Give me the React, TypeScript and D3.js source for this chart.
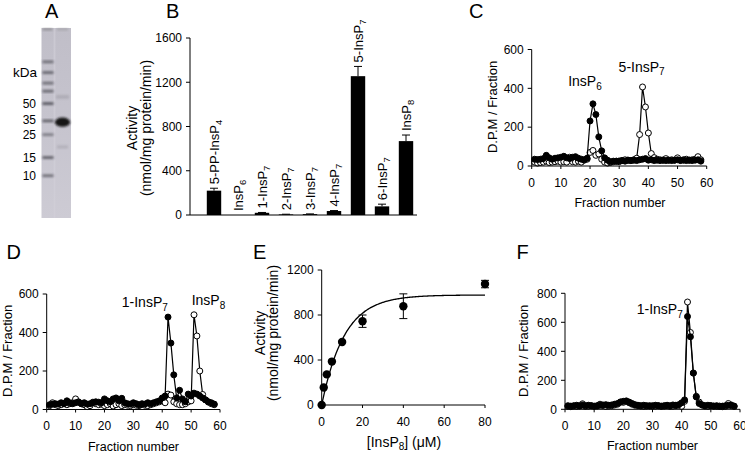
import React from "react";
import * as d3 from "d3";

const FONT = "'Liberation Sans', Arial, Helvetica, sans-serif";

// ---------- Panel A (gel) ----------
const ladderKDa = [127, 100, 79, 66, 50, 34, 25, 15, 10];
const ladderIntensity = [0.6, 0.65, 0.6, 0.65, 0.75, 0.7, 0.5, 0.7, 0.6];
const markerLabels = [50, 35, 25, 15, 10];
const proteinKDa = 33;

// ---------- Panel B (bars) ----------
const barCategories = ["5-PP-InsP4", "InsP6", "1-InsP7", "2-InsP7", "3-InsP7", "4-InsP7", "5-InsP7", "6-InsP7", "InsP8"];
const barValues = [220, 0, 20, 5, 8, 36, 1255, 78, 668];
const barErrors = [22, 0, 3, 2, 2, 4, 88, 20, 55];
const barYTicks = [0, 400, 800, 1200, 1600];

// ---------- Panel C ----------
const cFilled = [35, 33, 35, 38, 55, 42, 35, 40, 42, 45, 50, 42, 38, 45, 48, 40, 35, 32, 40, 232, 320, 265, 150, 78, 42, 30, 22, 25, 24, 26, 28, 25, 30, 28, 30, 28, 32, 35, 38, 30, 32, 28, 30, 28, 30, 28, 30, 28, 30, 32, 28, 30, 28, 30, 28, 30, 32, 25];
const cOpen = [20, 15, 18, 20, 25, 18, 20, 22, 25, 20, 22, 20, 45, 22, 20, 25, 20, 30, 35, 70, 80, 55, 62, 35, 20, 15, 18, 22, 25, 22, 28, 32, 30, 28, 32, 40, 162, 407, 304, 170, 64, 43, 35, 32, 30, 38, 30, 32, 30, 42, 30, 32, 35, 30, 32, 35, 48, 32];
const cYTicks = [0, 200, 400, 600];

// ---------- Panel D ----------
const dFilled = [25, 28, 30, 28, 35, 30, 45, 35, 30, 35, 38, 30, 35, 28, 30, 35, 40, 38, 35, 55, 45, 40, 55, 60, 45, 58, 35, 30, 28, 35, 30, 25, 30, 28, 35, 30, 35, 40, 45, 60, 70, 480, 345, 180, 60, 100, 55, 40, 80, 70, 85, 80, 70, 60, 50, 40, 35, 28];
const dOpen = [20, 35, 25, 20, 25, 30, 25, 30, 35, 55, 40, 30, 25, 15, 20, 38, 30, 25, 28, 20, 25, 30, 18, 25, 30, 20, 25, 22, 20, 25, 22, 20, 25, 22, 20, 25, 30, 35, 40, 45, 35, 80, 75, 40, 30, 25, 25, 30, 40, 45, 492, 382, 200, 78, 50, 38, 30, 25];
const dYTicks = [0, 200, 400, 600];

// ---------- Panel E ----------
const eConc = [0, 1, 2.5, 5, 10, 20, 40, 80];
const eActivity = [0, 155, 272, 386, 560, 745, 878, 1075];
const eError = [0, 0, 0, 0, 0, 55, 110, 33];
const eXTicks = [0, 20, 40, 60, 80];
const eYTicks = [0, 400, 800, 1200];
const eFitVmax = 978;
const eFitRate = 0.09;

// ---------- Panel F ----------
const fFilled = [25, 22, 25, 28, 22, 30, 25, 28, 25, 22, 25, 28, 30, 32, 28, 30, 35, 40, 50, 55, 58, 50, 40, 32, 28, 25, 28, 25, 22, 25, 28, 25, 22, 25, 28, 25, 30, 28, 32, 45, 65, 640, 500, 250, 85, 40, 30, 25, 28, 25, 22, 25, 20, 22, 25, 28, 30, 22];
const fOpen = [20, 18, 22, 20, 25, 38, 20, 22, 25, 20, 22, 35, 25, 20, 22, 25, 30, 35, 50, 48, 55, 45, 35, 28, 25, 22, 20, 22, 25, 20, 22, 25, 20, 22, 25, 20, 22, 25, 28, 20, 55, 740, 530, 250, 90, 50, 30, 22, 20, 25, 22, 20, 22, 18, 20, 40, 25, 20];
const fYTicks = [0, 200, 400, 600, 800];

const fractionTicks = [0, 10, 20, 30, 40, 50, 60];

function splitSub(text: string) {
  const m = text.match(/^(.*?)(\d)$/);
  return m ? [m[1], m[2]] : [text, ""];
}

function SubText({ text, fontSize, subSize, subDy, ...rest }: any) {
  const [main, sub] = splitSub(text);
  return (
    <text fontSize={fontSize} {...rest}>
      {main}
      {sub && (
        <tspan fontSize={subSize} dy={subDy}>
          {sub}
        </tspan>
      )}
    </text>
  );
}

function YAxis({ x, scale, ticks, fontSize = 12 }: any) {
  const [r0, r1] = scale.range();
  return (
    <g>
      <line x1={x} x2={x} y1={r0} y2={r1} stroke="#000" strokeWidth={1} />
      {ticks.map((t: number) => (
        <g key={t}>
          <line x1={x - 4} x2={x} y1={scale(t)} y2={scale(t)} stroke="#000" strokeWidth={1} />
          <text x={x - 8} y={scale(t)} dy="0.36em" textAnchor="end" fontSize={fontSize}>
            {t}
          </text>
        </g>
      ))}
    </g>
  );
}

function XAxis({ y, scale, ticks, fontSize = 12 }: any) {
  const [r0, r1] = scale.range();
  return (
    <g>
      <line x1={r0} x2={r1} y1={y} y2={y} stroke="#000" strokeWidth={1} />
      {ticks.map((t: number) => (
        <g key={t}>
          <line x1={scale(t)} x2={scale(t)} y1={y} y2={y + 3} stroke="#000" strokeWidth={1} />
          <text x={scale(t)} y={y + 20.5} textAnchor="middle" fontSize={fontSize}>
            {t}
          </text>
        </g>
      ))}
    </g>
  );
}

function PanelA() {
  const y = d3.scaleLog().domain([10, 50]).range([175.7, 103.6]);
  return (
    <g>
      <defs>
        <filter id="gelBlur" x="-20%" y="-50%" width="140%" height="200%">
          <feGaussianBlur stdDeviation="0.9" />
        </filter>
        <linearGradient id="gelGrad" x1="0" y1="0" x2="0" y2="1">
          <stop offset="0" stopColor="#c0bec8" />
          <stop offset="0.5" stopColor="#c6c4ce" />
          <stop offset="1" stopColor="#cdcbd4" />
        </linearGradient>
      </defs>
      <rect x={41.5} y={28} width={29.5} height={190} fill="url(#gelGrad)" />
      <rect x={53.5} y={28} width={2} height={190} fill="#d2d0d8" opacity={0.6} />
      <rect x={42.5} y={28.5} width={10} height={1.8} fill="#666" opacity={0.6} filter="url(#gelBlur)" />
      <rect x={57} y={28.5} width={11} height={1.8} fill="#888" opacity={0.5} filter="url(#gelBlur)" />
      {ladderKDa.map((k, i) => (
        <rect
          key={k}
          x={42.5}
          y={y(k) - 1.4}
          width={11}
          height={2.8}
          fill="#3c3c44"
          opacity={ladderIntensity[i]}
          filter="url(#gelBlur)"
        />
      ))}
      <rect x={56} y={y(58) - 2} width={13} height={4} fill="#8a8892" opacity={0.35} filter="url(#gelBlur)" />
      <rect x={57} y={y(19) - 1.5} width={11} height={3} fill="#8a8892" opacity={0.35} filter="url(#gelBlur)" />
      <ellipse cx={62.5} cy={y(proteinKDa)} rx={7.6} ry={4.6} fill="#151515" filter="url(#gelBlur)" />
      <text x={37} y={76.5} textAnchor="end" fontSize={13.5}>
        kDa
      </text>
      {markerLabels.map((k) => (
        <text key={k} x={36} y={y(k)} dy="0.36em" textAnchor="end" fontSize={12}>
          {k}
        </text>
      ))}
    </g>
  );
}

function PanelB() {
  const y = d3.scaleLinear().domain([0, 1600]).range([215, 38]);
  const x = d3.scaleBand<string>().domain(barCategories).range([202, 418]).paddingInner(0.4).paddingOuter(0.2);
  return (
    <g>
      <YAxis x={190} scale={y} ticks={barYTicks} />
      <line x1={190} x2={417} y1={215} y2={215} stroke="#000" strokeWidth={1} />
      {barCategories.map((c, i) => {
        const cx = (x(c) as number) + x.bandwidth() / 2;
        const v = barValues[i];
        const e = barErrors[i];
        const top = y(v + e);
        return (
          <g key={c}>
            <rect x={x(c)} y={y(v)} width={x.bandwidth()} height={y(0) - y(v)} fill="#000" />
            {e > 0 && (
              <g stroke="#000" strokeWidth={1}>
                <line x1={cx} x2={cx} y1={y(v)} y2={top} />
                <line x1={cx - 4} x2={cx + 4} y1={top} y2={top} />
              </g>
            )}
            <SubText
              text={c}
              fontSize={13}
              subSize={9.5}
              subDy={3}
              transform={`translate(${cx + 4.5},${top - 4}) rotate(-90)`}
              textAnchor="start"
            />
          </g>
        );
      })}
      <text transform="translate(137,128) rotate(-90)" textAnchor="middle" fontSize={14}>
        Activity
      </text>
      <text transform="translate(150.5,128) rotate(-90)" textAnchor="middle" fontSize={14}>
        (nmol/mg protein/min)
      </text>
    </g>
  );
}

function Chromatogram({ left, right, bottom, top, yMax, yTicks, filled, open, annotations, yTitle, xTitle }: any) {
  const x = d3.scaleLinear().domain([0, 60]).range([left, right]);
  const y = d3.scaleLinear().domain([0, yMax]).range([bottom, top]);
  const line = d3
    .line<number>()
    .x((_, i) => x(i + 1))
    .y((d) => y(d));
  return (
    <g>
      <path d={line(open) || ""} fill="none" stroke="#000" strokeWidth={1.2} />
      {open.map((d: number, i: number) => (
        <circle key={"o" + i} cx={x(i + 1)} cy={y(d)} r={3} fill="#fff" stroke="#000" strokeWidth={1} />
      ))}
      <path d={line(filled) || ""} fill="none" stroke="#000" strokeWidth={1.2} />
      {filled.map((d: number, i: number) => (
        <circle key={"f" + i} cx={x(i + 1)} cy={y(d)} r={3} fill="#000" stroke="#000" strokeWidth={1} />
      ))}
      <YAxis x={left} scale={y} ticks={yTicks} />
      <XAxis y={bottom} scale={x} ticks={fractionTicks} />
      {annotations.map((a: any) => (
        <SubText key={a.text} text={a.text} x={x(a.fx)} y={y(a.fy)} fontSize={14} subSize={10} subDy={3.5} />
      ))}
      <text transform={`translate(${yTitle[0]},${yTitle[1]}) rotate(-90)`} textAnchor="middle" fontSize={13}>
        D.P.M / Fraction
      </text>
      <text x={xTitle[0]} y={xTitle[1]} textAnchor="middle" fontSize={12.5}>
        Fraction number
      </text>
    </g>
  );
}

function PanelE() {
  const x = d3.scaleLinear().domain([0, 80]).range([321.7, 485]);
  const y = d3.scaleLinear().domain([0, 1200]).range([405, 270]);
  const fitX = d3.range(0, 80.01, 0.5);
  const fit = d3
    .line<number>()
    .x((d) => x(d))
    .y((d) => y(eFitVmax * (1 - Math.exp(-eFitRate * d))))
    .curve(d3.curveBasis);
  return (
    <g>
      <path d={fit(fitX) || ""} fill="none" stroke="#000" strokeWidth={1.3} />
      {eConc.map((c, i) => (
        <g key={c}>
          {eError[i] > 0 && (
            <g stroke="#000" strokeWidth={1}>
              <line x1={x(c)} x2={x(c)} y1={y(eActivity[i] - eError[i])} y2={y(eActivity[i] + eError[i])} />
              <line x1={x(c) - 4} x2={x(c) + 4} y1={y(eActivity[i] + eError[i])} y2={y(eActivity[i] + eError[i])} />
              <line x1={x(c) - 4} x2={x(c) + 4} y1={y(eActivity[i] - eError[i])} y2={y(eActivity[i] - eError[i])} />
            </g>
          )}
          <circle cx={x(c)} cy={y(eActivity[i])} r={4.2} fill="#000" />
        </g>
      ))}
      <YAxis x={321.7} scale={y} ticks={eYTicks} />
      <XAxis y={405} scale={x} ticks={eXTicks} />
      <text transform="translate(265,333) rotate(-90)" textAnchor="middle" fontSize={14}>
        Activity
      </text>
      <text transform="translate(278,333) rotate(-90)" textAnchor="middle" fontSize={14}>
        (nmol/mg protein/min)
      </text>
      <text x={404} y={446.5} textAnchor="middle" fontSize={14}>
        [InsP
        <tspan fontSize={10} dy={3.5}>
          8
        </tspan>
        <tspan dy={-3.5}>] (μM)</tspan>
      </text>
    </g>
  );
}

const panelLetters = [
  { t: "A", x: 45, y: 18 },
  { t: "B", x: 166, y: 18 },
  { t: "C", x: 469, y: 18 },
  { t: "D", x: 6.5, y: 258.5 },
  { t: "E", x: 253, y: 258.5 },
  { t: "F", x: 516.5, y: 258.5 },
];

export default function App() {
  return (
    <div style={{ position: "absolute", left: 0, top: 0 }}>
      <svg width={745} height={453} style={{ display: "block", background: "#fff" }} fontFamily={FONT}>
        <rect width={745} height={453} fill="#fff" />
        <PanelA />
        <PanelB />
        <Chromatogram
          left={531.7}
          right={706.7}
          bottom={166}
          top={49.5}
          yMax={600}
          yTicks={cYTicks}
          filled={cFilled}
          open={cOpen}
          annotations={[
            { text: "InsP6", fx: 12.5, fy: 412 },
            { text: "5-InsP7", fx: 29.8, fy: 486 },
          ]}
          yTitle={[496.5, 107]}
          xTitle={[620, 206.5]}
        />
        <Chromatogram
          left={46.7}
          right={220}
          bottom={409.5}
          top={294}
          yMax={600}
          yTicks={dYTicks}
          filled={dFilled}
          open={dOpen}
          annotations={[
            { text: "1-InsP7", fx: 26, fy: 531 },
            { text: "InsP8", fx: 50.2, fy: 541 },
          ]}
          yTitle={[11.7, 351]}
          xTitle={[133.5, 451]}
        />
        <PanelE />
        <Chromatogram
          left={565}
          right={740}
          bottom={409.3}
          top={293.3}
          yMax={800}
          yTicks={fYTicks}
          filled={fFilled}
          open={fOpen}
          annotations={[{ text: "1-InsP7", fx: 24.6, fy: 655 }]}
          yTitle={[528, 351]}
          xTitle={[652.5, 450]}
        />
        {panelLetters.map((p) => (
          <text key={p.t} x={p.x} y={p.y} fontSize={20}>
            {p.t}
          </text>
        ))}
      </svg>
    </div>
  );
}
